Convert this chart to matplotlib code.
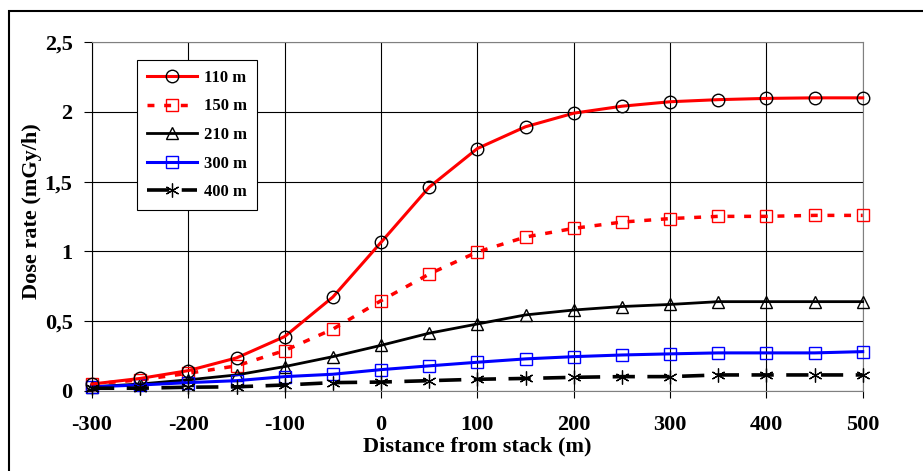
import matplotlib
matplotlib.use('Agg')
import matplotlib.pyplot as plt
from matplotlib.patches import Rectangle
from matplotlib.ticker import FuncFormatter

plt.rcParams['font.family'] = ['Liberation Serif', 'DejaVu Serif']
plt.rcParams['font.weight'] = 'bold'
plt.rcParams['lines.scale_dashes'] = False
plt.rcParams['axes.unicode_minus'] = False

distance = [-300, -250, -200, -150, -100, -50, 0, 50, 100, 150, 200, 250, 300, 350, 400, 450, 500]
dose_110 = [0.05, 0.09, 0.146, 0.237, 0.39, 0.673, 1.065, 1.46, 1.737, 1.893, 1.99, 2.04, 2.072, 2.087, 2.096, 2.10, 2.10]
dose_150 = [0.05, 0.08, 0.127, 0.18, 0.29, 0.443, 0.647, 0.838, 0.996, 1.103, 1.165, 1.21, 1.235, 1.251, 1.251, 1.258, 1.258]
dose_210 = [0.03, 0.05, 0.08, 0.115, 0.175, 0.246, 0.327, 0.414, 0.48, 0.545, 0.58, 0.605, 0.62, 0.64, 0.64, 0.64, 0.64]
dose_300 = [0.03, 0.043, 0.06, 0.074, 0.103, 0.12, 0.153, 0.18, 0.206, 0.23, 0.246, 0.258, 0.266, 0.273, 0.273, 0.273, 0.282]
dose_400 = [0.02, 0.02, 0.027, 0.03, 0.043, 0.06, 0.064, 0.074, 0.084, 0.09, 0.098, 0.103, 0.103, 0.115, 0.115, 0.115, 0.115]

fig = plt.figure(figsize=(9.23, 4.71), dpi=100)
ax = fig.add_axes([92/923, 1-391/471, (862.7-92)/923, (391-42)/471])

ax.plot(distance, dose_110, color='red', lw=2.2, marker='o', ms=9, mfc='none', mec='black', mew=1.0,
        label='110 m', clip_on=False, zorder=5)
ax.plot(distance, dose_150, color='red', lw=2.5, dashes=(5, 7), marker='s', ms=8, mfc='none', mec='red', mew=1.0,
        label='150 m', clip_on=False, zorder=4)
ax.plot(distance, dose_210, color='black', lw=2.0, marker='^', ms=9, mfc='none', mec='black', mew=1.0,
        label='210 m', clip_on=False, zorder=4)
ax.plot(distance, dose_300, color='blue', lw=2.2, marker='s', ms=8, mfc='none', mec='blue', mew=1.0,
        label='300 m', clip_on=False, zorder=4)
ax.plot(distance, dose_400, color='black', lw=2.6, dashes=(16, 9), marker=(6, 2, 0), ms=10, mec='black', mew=0.9,
        label='400 m', clip_on=False, zorder=4)

ax.set_xlim(-300, 500)
ax.set_ylim(0, 2.5)
ax.set_xticks(range(-300, 501, 100))
ax.set_yticks([0, 0.5, 1, 1.5, 2, 2.5])
ax.yaxis.set_major_formatter(FuncFormatter(lambda v, p: ('%g' % v).replace('.', ',')))
ax.grid(True, color='black', lw=0.8)
ax.set_axisbelow(True)
for s in ['top', 'right', 'bottom']:
    ax.spines[s].set_color('#808080')
ax.spines['left'].set_color('black')
ax.tick_params(axis='y', direction='out', length=6, width=0.8, pad=8, labelsize=16)
ax.tick_params(axis='x', direction='out', length=5, width=0.8, pad=12, labelsize=16)
for lab in ax.get_xticklabels() + ax.get_yticklabels():
    lab.set_fontweight('bold')

fig.text(477/923, 1-446/471, 'Distance from stack (m)', ha='center', va='center', fontsize=16, fontweight='bold')
fig.text(32/923, 1-211/471, 'Dose rate (mGy/h)', ha='center', va='center', rotation=90, fontsize=16, fontweight='bold')

leg = fig.legend(loc='upper left', bbox_to_anchor=(137/923, 1-60/471), borderaxespad=0, fancybox=False,
                 edgecolor='black', fontsize=12, handlelength=3.0, labelspacing=0.75, handletextpad=0.4,
                 borderpad=0.6, framealpha=1)
leg.get_frame().set_linewidth(0.8)
for t in leg.get_texts():
    t.set_fontweight('bold')

fig.patches.append(Rectangle((9/923, -0.1), 2, 1.1 - 11/471, transform=fig.transFigure, fill=False,
                             lw=1.5, edgecolor='black'))

fig.savefig('out.png', dpi=100)
